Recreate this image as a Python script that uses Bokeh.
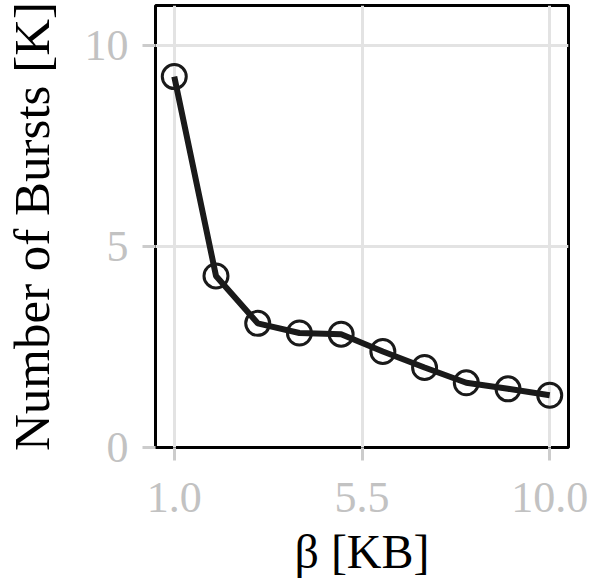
from bokeh.plotting import figure
from bokeh.embed import file_html
from bokeh.resources import INLINE
from bokeh.models import FixedTicker, Range1d

beta_kb = [1, 2, 3, 4, 5, 6, 7, 8, 9, 10]
bursts_k = [9.23, 4.27, 3.09, 2.85, 2.82, 2.39, 1.99, 1.61, 1.46, 1.30]
x_ticks = [1.0, 5.5, 10.0]
y_ticks = [0, 5, 10]

p = figure(frame_width=413, frame_height=442, output_backend="svg", toolbar_location=None,
           x_range=Range1d(0.55, 10.45), y_range=Range1d(0.0, 11.0),
           min_border_top=5, min_border_right=22, min_border_left=145, min_border_bottom=126)

p.outline_line_color = "black"
p.outline_line_width = 3
p.background_fill_color = "white"
p.border_fill_color = "white"

for ax in (p.xaxis, p.yaxis):
    ax.axis_line_color = None
    ax.major_tick_line_color = "#cccccc"
    ax.major_tick_line_width = 3
    ax.major_tick_out = 13
    ax.major_tick_in = 0
    ax.minor_tick_line_color = None
    ax.major_label_text_color = "#c2c2c2"
    ax.major_label_text_font = "Liberation Serif"
    ax.major_label_text_font_size = "44px"
    ax.axis_label_text_font = "Liberation Serif"
    ax.axis_label_text_font_style = "normal"
    ax.axis_label_text_color = "black"
    ax.axis_label_text_font_size = "51px"

p.xaxis.ticker = FixedTicker(ticks=x_ticks)
p.yaxis.ticker = FixedTicker(ticks=y_ticks)
p.xaxis.major_label_overrides = {1.0: "1.0", 5.5: "5.5", 10.0: "10.0"}
p.xaxis.major_label_standoff = 22
p.yaxis.major_label_standoff = 14
p.xaxis.axis_label = "β [KB]"
p.xaxis.axis_label_text_font_size = "48px"
p.xaxis.axis_label_standoff = 10
p.yaxis.axis_label = "Number of Bursts [K]"
p.yaxis.axis_label_standoff = 22

p.grid.grid_line_color = "#e3e3e3"
p.grid.grid_line_width = 3

p.line(beta_kb, bursts_k, line_color="#1a1a1a", line_width=6)
p.scatter(beta_kb, bursts_k, marker="circle", size=24, fill_color=None,
          line_color="#1a1a1a", line_width=3)

open("out.html", "w").write(file_html(p, INLINE))
